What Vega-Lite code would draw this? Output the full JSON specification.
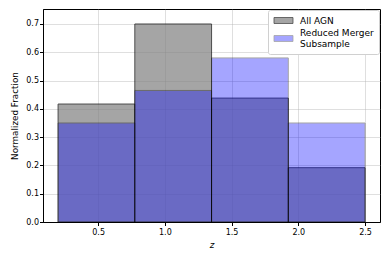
{
  "$schema": "https://vega.github.io/schema/vega-lite/v6.json",
  "width": 337,
  "height": 213,
  "autosize": {"type": "none"},
  "padding": {"left": 43, "top": 9, "right": 10, "bottom": 38},
  "background": "white",
  "config": {
    "view": {"stroke": "black", "strokeWidth": 1},
    "font": "DejaVu Sans",
    "axis": {
      "domainColor": "black",
      "tickColor": "black",
      "tickSize": 3.5,
      "labelFontSize": 8,
      "labelColor": "black",
      "titleFontSize": 8.8,
      "titleFontWeight": "normal",
      "titleColor": "black",
      "gridColor": "#b0b0b0",
      "gridOpacity": 0.5,
      "gridWidth": 0.8
    }
  },
  "data": {
    "values": [
      {"series": "All AGN", "x0": 0.2, "x1": 0.775, "value": 0.417},
      {"series": "All AGN", "x0": 0.775, "x1": 1.35, "value": 0.7},
      {"series": "All AGN", "x0": 1.35, "x1": 1.925, "value": 0.438},
      {"series": "All AGN", "x0": 1.925, "x1": 2.5, "value": 0.192},
      {"series": "Reduced Merger Subsample", "x0": 0.2, "x1": 0.775, "value": 0.35},
      {"series": "Reduced Merger Subsample", "x0": 0.775, "x1": 1.35, "value": 0.465},
      {"series": "Reduced Merger Subsample", "x0": 1.35, "x1": 1.925, "value": 0.58},
      {"series": "Reduced Merger Subsample", "x0": 1.925, "x1": 2.5, "value": 0.35}
    ]
  },
  "mark": {"type": "rect", "stroke": "black", "strokeWidth": 1},
  "encoding": {
    "x": {
      "field": "x0", "type": "quantitative",
      "scale": {"domain": [0.087, 2.612], "nice": false, "zero": false},
      "axis": {"values": [0.5, 1.0, 1.5, 2.0, 2.5], "format": ".1f", "title": "z", "titleFontStyle": "italic", "titlePadding": 4, "labelPadding": 3}
    },
    "x2": {"field": "x1"},
    "y": {
      "field": "value", "type": "quantitative",
      "scale": {"domain": [0, 0.753], "nice": false},
      "axis": {"values": [0, 0.1, 0.2, 0.3, 0.4, 0.5, 0.6, 0.7], "format": ".1f", "title": "Normalized Fraction", "titlePadding": 6, "labelPadding": 1}
    },
    "y2": {"datum": 0},
    "fill": {
      "field": "series", "type": "nominal",
      "scale": {"domain": ["All AGN", "Reduced Merger Subsample"], "range": ["#808080", "#0000ff"]},
      "legend": {
        "title": null,
        "orient": "top-right",
        "offset": 1,
        "padding": 5,
        "strokeColor": "#d0d0d0",
        "fillColor": "white",
        "cornerRadius": 2,
        "labelFontSize": 9,
        "labelColor": "black",
        "labelOffset": 11,
        "symbolOffset": 5,
        "symbolType": "M-2,-0.63L2,-0.63L2,0.63L-2,0.63Z",
        "symbolSize": 90,
        "symbolStrokeColor": "black",
        "symbolStrokeWidth": 0.8,
        "rowPadding": 3,
        "labelExpr": "datum.label == 'Reduced Merger Subsample' ? ['Reduced Merger', 'Subsample'] : datum.label",
        "encode": {
          "labels": {
            "update": {
              "lineHeight": {"value": 11},
              "dy": {"signal": "datum.value == 'Reduced Merger Subsample' ? -5.5 : 0"}
            }
          }
        }
      }
    },
    "opacity": {
      "field": "series", "type": "nominal",
      "scale": {"domain": ["All AGN", "Reduced Merger Subsample"], "range": [0.7, 0.35]}
    }
  }
}
